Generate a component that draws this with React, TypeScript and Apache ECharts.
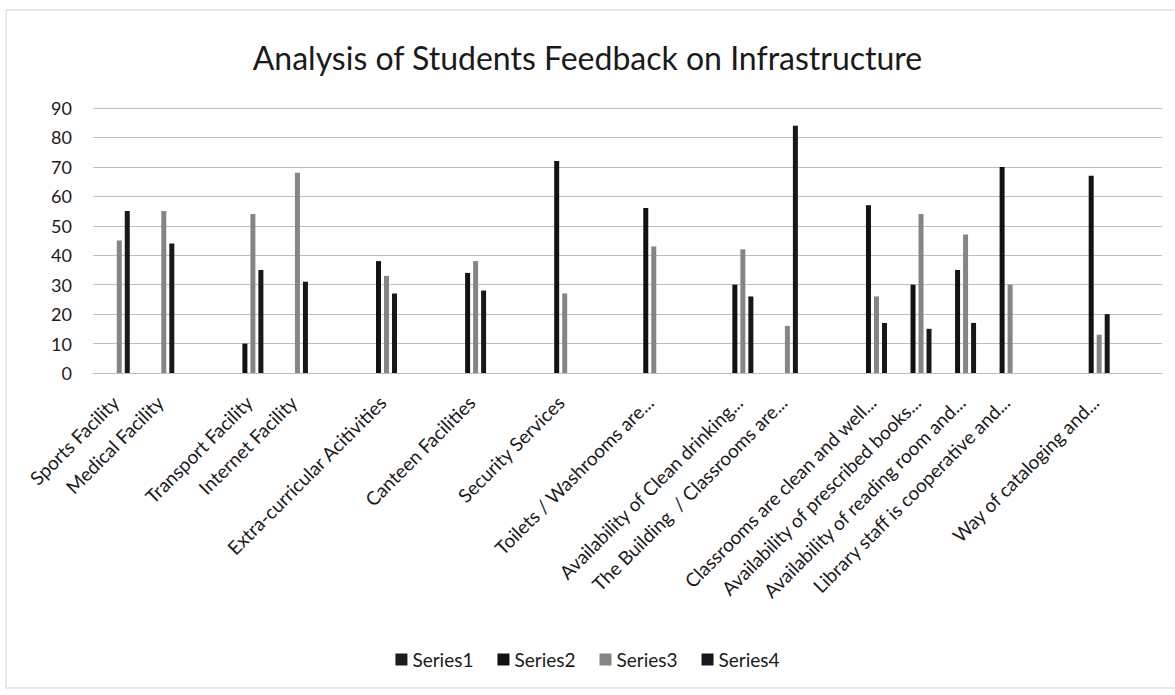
import React, { useEffect, useRef } from "react";
import * as echarts from "echarts";

const categories = [
  "Sports Facility",
  "Medical Facility",
  "",
  "Transport Facility",
  "Internet Facility",
  "",
  "Extra-curricular Acitivities",
  "",
  "Canteen Facilities",
  "",
  "Security Services",
  "",
  "Toilets / Washrooms are...",
  "",
  "Availability of Clean drinking...",
  "The Building  / Classrooms are...",
  "",
  "Classrooms are clean and well...",
  "Availability of prescribed books...",
  "Availability of reading room and...",
  "Library staff is cooperative and...",
  "",
  "Way of cataloging and...",
  "",
];

const series1 = [0, 0, 0, 0, 0, 0, 0, 0, 0, 0, 0, 0, 0, 0, 0, 0, 0, 0, 0, 0, 0, 0, 0, 0];
const series2 = [0, 0, 0, 10, 0, 0, 38, 0, 34, 0, 72, 0, 56, 0, 30, 0, 0, 57, 30, 35, 70, 0, 67, 0];
const series3 = [45, 55, 0, 54, 68, 0, 33, 0, 38, 0, 27, 0, 43, 0, 42, 16, 0, 26, 54, 47, 30, 0, 13, 0];
const series4 = [55, 44, 0, 35, 31, 0, 27, 0, 28, 0, 0, 0, 0, 0, 26, 84, 0, 17, 15, 17, 0, 0, 20, 0];

const seriesNames = ["Series1", "Series2", "Series3", "Series4"];
const seriesColors = ["#1c1c1c", "#121212", "#858585", "#181818"];

const FONT = "Lato, 'Open Sans', sans-serif";

export default function App() {
  const ref = useRef<HTMLDivElement>(null);

  useEffect(() => {
    if (!ref.current) return;
    const chart = echarts.init(ref.current, null, { renderer: "svg" });
    const allData = [series1, series2, series3, series4];
    chart.setOption({
      animation: false,
      backgroundColor: "#ffffff",
      textStyle: { fontFamily: FONT },
      title: {
        text: "Analysis of Students Feedback on Infrastructure",
        left: "center",
        top: 36,
        textStyle: {
          fontFamily: FONT,
          fontSize: 32,
          fontWeight: "normal",
          color: "#1a1a1a",
        },
      },
      legend: {
        data: seriesNames,
        bottom: 21,
        left: "center",
        icon: "rect",
        itemWidth: 12,
        itemHeight: 12,
        itemGap: 24,
        textStyle: { fontFamily: FONT, fontSize: 19, color: "#1a1a1a" },
      },
      graphic: [
        {
          type: "rect",
          shape: { x: 6, y: 10, width: 1185, height: 678 },
          style: { fill: "none", stroke: "#d8d0d0", lineWidth: 1 },
          silent: true,
        },
      ],
      grid: { left: 93, right: 13, top: 108, bottom: 322 },
      xAxis: {
        type: "category",
        data: categories,
        axisLine: { show: true, lineStyle: { color: "#c4bcbc", width: 1 } },
        axisTick: { show: false },
        axisLabel: {
          interval: 0,
          rotate: 45,
          margin: 26,
          fontFamily: FONT,
          fontSize: 19,
          color: "#1a1a1a",
        },
      },
      yAxis: {
        type: "value",
        min: 0,
        max: 90,
        interval: 10,
        axisLine: { show: false },
        axisTick: { show: false },
        axisLabel: {
          margin: 21,
          fontFamily: FONT,
          fontSize: 18,
          color: "#1a1a1a",
        },
        splitLine: { lineStyle: { color: "#c4bcbc", width: 1 } },
      },
      series: seriesNames.map((name, i) => ({
        name,
        type: "bar",
        data: allData[i],
        barWidth: 5,
        barGap: "60%",
        itemStyle: { color: seriesColors[i] },
      })),
    });
    return () => chart.dispose();
  }, []);

  return (
    <div
      ref={ref}
      style={{ position: "fixed", left: 0, top: 0, width: 1175, height: 695, background: "#fff" }}
    />
  );
}
